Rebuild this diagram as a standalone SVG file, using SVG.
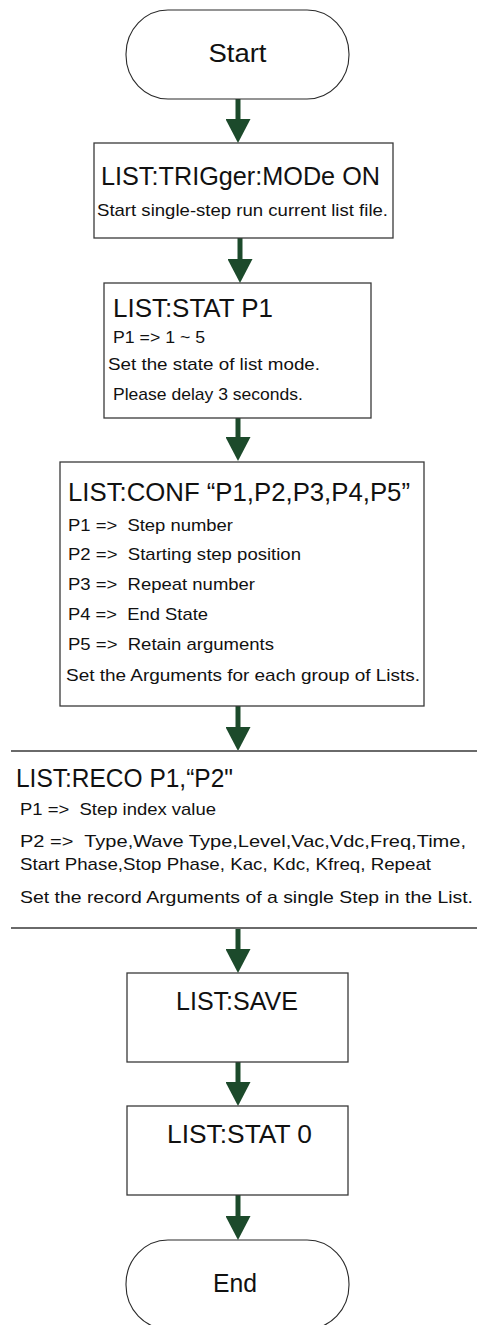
<svg xmlns="http://www.w3.org/2000/svg" width="477" height="1325" viewBox="0 0 477 1325">
<style>
  .bg{fill:#ffffff}
  .box{fill:#ffffff;stroke:#3a3a3a;stroke-width:1.3}
  .term{fill:#ffffff;stroke:#2a2a2a;stroke-width:1.1}
  .sep{stroke:#6a6a6a;stroke-width:2;fill:none}
  .t{font-family:"Liberation Sans",Arial,sans-serif;fill:#111111;white-space:pre}
  .big{font-size:25px}
  .sm{font-size:17px}
  .arr{stroke:#1c4a2b;stroke-width:5;fill:none;marker-end:url(#ah)}
</style>
<defs>
  <marker id="ah" viewBox="0 0 24 25" refX="1" refY="12.5" markerWidth="24" markerHeight="25" markerUnits="userSpaceOnUse" orient="auto">
    <path d="M0,0 L24,12.5 L0,25 Z" fill="#1c4a2b"/>
  </marker>
</defs>
<rect class="bg" x="0" y="0" width="477" height="1325"/>

<g id="connectors">
  <line class="arr" x1="238" y1="99" x2="238" y2="120"/>
  <line class="arr" x1="240" y1="238" x2="240" y2="260"/>
  <line class="arr" x1="238" y1="418" x2="238" y2="438"/>
  <line class="arr" x1="238" y1="706" x2="238" y2="728"/>
  <line class="arr" x1="238" y1="929" x2="238" y2="950"/>
  <line class="arr" x1="238" y1="1062" x2="238" y2="1083"/>
  <line class="arr" x1="238" y1="1195" x2="238" y2="1217"/>
</g>

<g id="start">
  <rect class="term" x="126" y="10" width="223" height="89" rx="42" ry="44"/>
  <text class="t big" x="237.5" y="62" text-anchor="middle" textLength="58" lengthAdjust="spacingAndGlyphs">Start</text>
</g>

<g id="trigger-mode">
  <rect class="box" x="94" y="143" width="299" height="95"/>
  <text class="t big" x="101" y="185" textLength="279" lengthAdjust="spacingAndGlyphs">LIST:TRIGger:MODe ON</text>
  <text class="t sm" x="97" y="216" textLength="291" lengthAdjust="spacingAndGlyphs">Start single-step run current list file.</text>
</g>

<g id="stat-p1">
  <rect class="box" x="104" y="283" width="267" height="135"/>
  <text class="t big" x="113" y="317" textLength="160" lengthAdjust="spacingAndGlyphs">LIST:STAT P1</text>
  <text class="t sm" x="113" y="343" textLength="92" lengthAdjust="spacingAndGlyphs">P1 =&gt; 1 ~ 5</text>
  <text class="t sm" x="108" y="370" textLength="212" lengthAdjust="spacingAndGlyphs">Set the state of list mode.</text>
  <text class="t sm" x="113" y="400" textLength="190" lengthAdjust="spacingAndGlyphs">Please delay 3 seconds.</text>
</g>

<g id="conf">
  <rect class="box" x="60" y="462" width="364" height="244"/>
  <text class="t big" x="68" y="501" textLength="342" lengthAdjust="spacingAndGlyphs">LIST:CONF “P1,P2,P3,P4,P5”</text>
  <text class="t sm" x="68" y="531" textLength="165" lengthAdjust="spacingAndGlyphs">P1 =&gt;  Step number</text>
  <text class="t sm" x="68" y="560" textLength="233" lengthAdjust="spacingAndGlyphs">P2 =&gt;  Starting step position</text>
  <text class="t sm" x="68" y="590" textLength="187" lengthAdjust="spacingAndGlyphs">P3 =&gt;  Repeat number</text>
  <text class="t sm" x="68" y="620" textLength="140" lengthAdjust="spacingAndGlyphs">P4 =&gt;  End State</text>
  <text class="t sm" x="68" y="650" textLength="206" lengthAdjust="spacingAndGlyphs">P5 =&gt;  Retain arguments</text>
  <text class="t sm" x="66" y="681" textLength="354" lengthAdjust="spacingAndGlyphs">Set the Arguments for each group of Lists.</text>
</g>

<g id="reco">
  <line class="sep" x1="11" y1="751" x2="477" y2="751"/>
  <line class="sep" x1="11" y1="928" x2="477" y2="928"/>
  <text class="t big" x="16" y="787" textLength="217" lengthAdjust="spacingAndGlyphs">LIST:RECO P1,“P2"</text>
  <text class="t sm" x="20" y="815" textLength="196" lengthAdjust="spacingAndGlyphs">P1 =&gt;  Step index value</text>
  <text class="t sm" x="20" y="847" textLength="446" lengthAdjust="spacingAndGlyphs">P2 =&gt;  Type,Wave Type,Level,Vac,Vdc,Freq,Time,</text>
  <text class="t sm" x="20" y="870" textLength="411" lengthAdjust="spacingAndGlyphs">Start Phase,Stop Phase, Kac, Kdc, Kfreq, Repeat</text>
  <text class="t sm" x="20" y="903" textLength="453" lengthAdjust="spacingAndGlyphs">Set the record Arguments of a single Step in the List.</text>
</g>

<g id="save">
  <rect class="box" x="127" y="973" width="221" height="89"/>
  <text class="t big" x="176" y="1010" textLength="122" lengthAdjust="spacingAndGlyphs">LIST:SAVE</text>
</g>

<g id="stat-0">
  <rect class="box" x="127" y="1106" width="221" height="89"/>
  <text class="t big" x="167" y="1143" textLength="145" lengthAdjust="spacingAndGlyphs">LIST:STAT 0</text>
</g>

<g id="end">
  <rect class="term" x="126" y="1240" width="223" height="89" rx="42" ry="44"/>
  <text class="t big" x="235" y="1292" text-anchor="middle" textLength="44" lengthAdjust="spacingAndGlyphs">End</text>
</g>
</svg>
